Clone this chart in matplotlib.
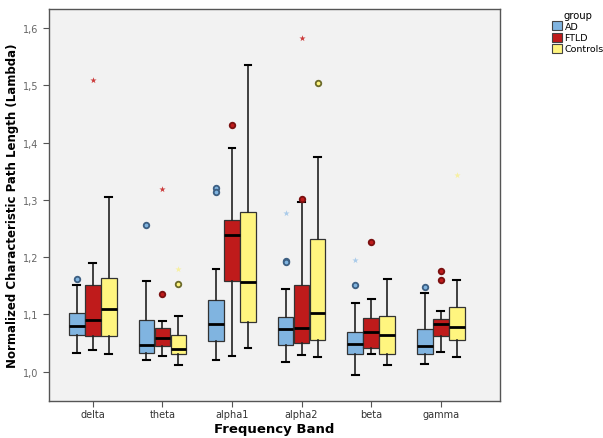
import numpy as np
import matplotlib
matplotlib.use('Agg')
import matplotlib.pyplot as plt
from matplotlib.patches import Patch
from matplotlib.ticker import FuncFormatter

bands = ['delta', 'theta', 'alpha1', 'alpha2', 'beta', 'gamma']
groups = ['AD', 'FTLD', 'Controls']

# box statistics per group, one value per band
ad_whislo = [1.033, 1.020, 1.020, 1.017, 0.994, 1.013]
ad_q1 = [1.065, 1.033, 1.053, 1.047, 1.031, 1.031]
ad_med = [1.080, 1.047, 1.084, 1.074, 1.049, 1.045]
ad_q3 = [1.102, 1.090, 1.126, 1.095, 1.069, 1.075]
ad_whishi = [1.152, 1.159, 1.179, 1.144, 1.120, 1.137]

ftld_whislo = [1.038, 1.027, 1.028, 1.030, 1.031, 1.034]
ftld_q1 = [1.063, 1.045, 1.159, 1.051, 1.042, 1.063]
ftld_med = [1.090, 1.059, 1.238, 1.077, 1.070, 1.083]
ftld_q3 = [1.152, 1.077, 1.265, 1.151, 1.094, 1.092]
ftld_whishi = [1.190, 1.088, 1.390, 1.296, 1.127, 1.106]

ctrl_whislo = [1.031, 1.012, 1.041, 1.026, 1.012, 1.025]
ctrl_q1 = [1.063, 1.031, 1.086, 1.055, 1.031, 1.056]
ctrl_med = [1.110, 1.040, 1.157, 1.102, 1.065, 1.079]
ctrl_q3 = [1.164, 1.064, 1.279, 1.232, 1.098, 1.113]
ctrl_whishi = [1.305, 1.098, 1.536, 1.374, 1.162, 1.161]

# outliers: (band index, value)
ad_circles = [(0, 1.162), (1, 1.257), (2, 1.320), (2, 1.313), (3, 1.194), (3, 1.191),
              (4, 1.152), (5, 1.148)]
ad_stars = [(3, 1.277), (4, 1.195)]
ftld_circles = [(1, 1.136), (2, 1.430), (3, 1.302), (4, 1.227), (5, 1.176), (5, 1.161)]
ftld_stars = [(0, 1.510), (1, 1.319), (3, 1.583)]
ctrl_circles = [(1, 1.154), (3, 1.504)]
ctrl_stars = [(1, 1.179), (5, 1.343)]

colors = ['#80B4E0', '#BF1B1B', '#FFF57F']
circle_edges = ['#3D5F82', '#7A1010', '#6B6A2A']
star_colors = ['#A9CBEA', '#CC3A3A', '#F7F0A0']

stats_all = [
    (ad_whislo, ad_q1, ad_med, ad_q3, ad_whishi),
    (ftld_whislo, ftld_q1, ftld_med, ftld_q3, ftld_whishi),
    (ctrl_whislo, ctrl_q1, ctrl_med, ctrl_q3, ctrl_whishi),
]
circles_all = [ad_circles, ftld_circles, ctrl_circles]
stars_all = [ad_stars, ftld_stars, ctrl_stars]

fig = plt.figure(figsize=(6.03, 4.39), dpi=100)
ax = fig.add_axes([0.0813, 0.0843, 0.7477, 0.8927])
ax.set_facecolor('#F2F2F2')

offsets = [-0.23, 0.0, 0.23]
width = 0.225
x = np.arange(len(bands))

for g, (lo, q1, med, q3, hi) in enumerate(stats_all):
    stats = []
    for i in range(len(bands)):
        stats.append({'whislo': lo[i], 'q1': q1[i], 'med': med[i],
                      'q3': q3[i], 'whishi': hi[i], 'fliers': []})
    ax.bxp(stats, positions=x + offsets[g], widths=width, patch_artist=True,
           showfliers=False, capwidths=0.1,
           boxprops=dict(facecolor=colors[g], edgecolor='#333333', linewidth=0.9),
           medianprops=dict(color='black', linewidth=2.0),
           whiskerprops=dict(color='#222222', linewidth=1.2),
           capprops=dict(color='black', linewidth=1.5))

    cx = [x[b] + offsets[g] for b, v in circles_all[g]]
    cy = [v for b, v in circles_all[g]]
    ax.scatter(cx, cy, s=16, marker='o', facecolor=colors[g],
               edgecolor=circle_edges[g], linewidth=1.3, zorder=4)
    sx = [x[b] + offsets[g] for b, v in stars_all[g]]
    sy = [v for b, v in stars_all[g]]
    ax.scatter(sx, sy, s=22, marker='*', color=star_colors[g], linewidth=0, zorder=4)

ax.set_xlim(-0.63, 5.85)
ax.set_ylim(0.949, 1.633)
ax.set_xticks(x)
ax.set_xticklabels(bands, fontsize=7, color='#333333')
ax.set_yticks([1.0, 1.1, 1.2, 1.3, 1.4, 1.5, 1.6])
ax.yaxis.set_major_formatter(FuncFormatter(lambda v, p: f'{v:.1f}'.replace('.', ',')))
ax.tick_params(axis='y', labelsize=7, labelcolor='#666666', length=4, color='#555555')
ax.tick_params(axis='x', length=4, color='#555555', pad=2)
for s in ax.spines.values():
    s.set_color('#555555')
    s.set_linewidth(1.0)

ax.set_xlabel('Frequency Band', fontsize=9.5, fontweight='bold', labelpad=2)
ax.set_ylabel('Normalized Characteristic Path Length (Lambda)', fontsize=8.5,
              fontweight='bold', labelpad=3)

handles = [Patch(facecolor=c, edgecolor='#444444', linewidth=0.8) for c in colors]
leg = fig.legend(handles, groups, title='group', loc='upper left',
                 bbox_to_anchor=(0.915, 0.975), frameon=False, fontsize=6.8,
                 title_fontsize=7.2, handlelength=1.1, handleheight=1.1,
                 handletextpad=0.25, labelspacing=0.15, borderaxespad=0,
                 borderpad=0)

fig.savefig('out.png', dpi=100)
